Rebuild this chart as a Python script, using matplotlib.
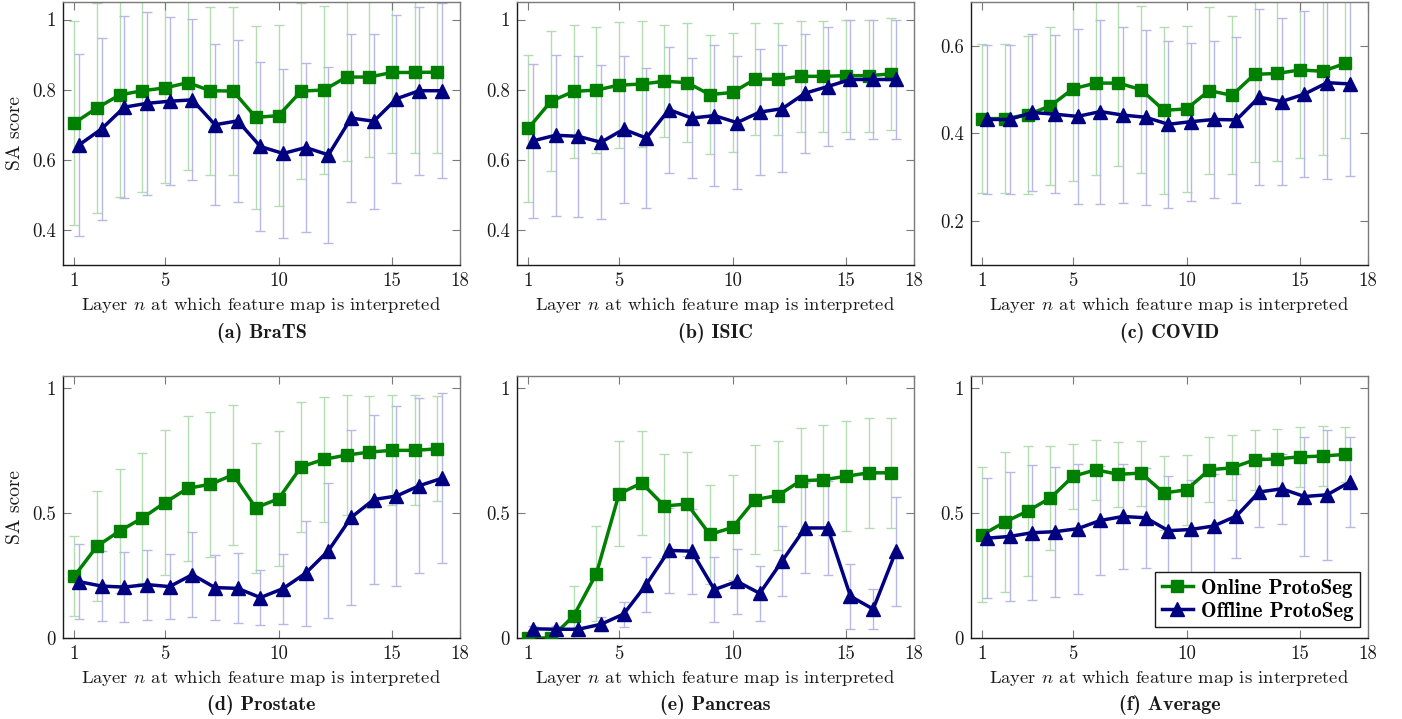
import matplotlib
matplotlib.use("Agg")
import matplotlib.pyplot as plt
import numpy as np

plt.rcParams['font.family'] = ['cmr10', 'DejaVu Serif']
plt.rcParams['mathtext.fontset'] = 'cm'
plt.rcParams['axes.formatter.use_mathtext'] = True

layers = list(range(1, 18))

titles = ["(a) BraTS", "(b) ISIC", "(c) COVID", "(d) Prostate", "(e) Pancreas", "(f) Average"]

brats_on = [0.705, 0.748, 0.785, 0.797, 0.805, 0.820, 0.797, 0.796, 0.721, 0.726, 0.796, 0.799, 0.836, 0.836, 0.849, 0.849, 0.850]
brats_on_sd = [0.29, 0.30, 0.29, 0.29, 0.27, 0.25, 0.24, 0.24, 0.26, 0.258, 0.25, 0.24, 0.24, 0.227, 0.231, 0.231, 0.23]
brats_off = [0.642, 0.688, 0.750, 0.761, 0.767, 0.771, 0.700, 0.711, 0.638, 0.618, 0.635, 0.614, 0.719, 0.710, 0.774, 0.797, 0.797]
brats_off_sd = [0.26, 0.26, 0.26, 0.26, 0.24, 0.23, 0.23, 0.23, 0.24, 0.24, 0.24, 0.25, 0.24, 0.25, 0.24, 0.24, 0.25]

isic_on = [0.690, 0.767, 0.795, 0.799, 0.813, 0.816, 0.824, 0.820, 0.786, 0.792, 0.830, 0.830, 0.838, 0.838, 0.840, 0.840, 0.845]
isic_on_sd = [0.21, 0.20, 0.19, 0.18, 0.18, 0.18, 0.16, 0.17, 0.17, 0.17, 0.16, 0.16, 0.159, 0.159, 0.16, 0.16, 0.16]
isic_off = [0.654, 0.670, 0.667, 0.650, 0.687, 0.662, 0.743, 0.719, 0.726, 0.706, 0.736, 0.746, 0.790, 0.809, 0.829, 0.829, 0.829]
isic_off_sd = [0.22, 0.23, 0.23, 0.22, 0.21, 0.20, 0.18, 0.17, 0.20, 0.19, 0.18, 0.18, 0.17, 0.17, 0.17, 0.17, 0.17]

covid_on = [0.434, 0.434, 0.443, 0.463, 0.502, 0.515, 0.515, 0.500, 0.453, 0.456, 0.498, 0.487, 0.535, 0.537, 0.545, 0.542, 0.560]
covid_on_sd = [0.17, 0.17, 0.18, 0.18, 0.21, 0.21, 0.19, 0.19, 0.19, 0.19, 0.19, 0.18, 0.20, 0.20, 0.20, 0.19, 0.17]
covid_off = [0.432, 0.432, 0.448, 0.444, 0.439, 0.450, 0.442, 0.437, 0.421, 0.427, 0.432, 0.431, 0.483, 0.473, 0.490, 0.516, 0.513]
covid_off_sd = [0.17, 0.17, 0.18, 0.18, 0.20, 0.21, 0.20, 0.20, 0.19, 0.18, 0.18, 0.19, 0.20, 0.19, 0.19, 0.22, 0.21]

prostate_on = [0.248, 0.368, 0.429, 0.481, 0.543, 0.600, 0.616, 0.654, 0.522, 0.558, 0.686, 0.716, 0.733, 0.745, 0.752, 0.752, 0.758]
prostate_on_sd = [0.16, 0.22, 0.25, 0.26, 0.29, 0.29, 0.29, 0.28, 0.26, 0.27, 0.26, 0.25, 0.24, 0.225, 0.22, 0.22, 0.21]
prostate_off = [0.226, 0.208, 0.204, 0.214, 0.206, 0.254, 0.202, 0.199, 0.162, 0.198, 0.260, 0.350, 0.483, 0.555, 0.569, 0.610, 0.640]
prostate_off_sd = [0.15, 0.14, 0.14, 0.14, 0.13, 0.17, 0.13, 0.14, 0.11, 0.14, 0.21, 0.27, 0.35, 0.34, 0.36, 0.35, 0.34]

pancreas_on = [0.0, 0.0, 0.089, 0.258, 0.578, 0.621, 0.529, 0.537, 0.415, 0.443, 0.555, 0.571, 0.630, 0.634, 0.648, 0.662, 0.662]
pancreas_on_sd = [0.0, 0.0, 0.118, 0.19, 0.21, 0.21, 0.21, 0.21, 0.20, 0.21, 0.22, 0.22, 0.21, 0.22, 0.22, 0.22, 0.22]
pancreas_off = [0.037, 0.035, 0.035, 0.055, 0.096, 0.214, 0.351, 0.348, 0.194, 0.227, 0.179, 0.310, 0.441, 0.441, 0.167, 0.116, 0.347]
pancreas_off_sd = [0.01, 0.015, 0.01, 0.028, 0.05, 0.11, 0.17, 0.17, 0.13, 0.13, 0.11, 0.14, 0.18, 0.19, 0.13, 0.08, 0.22]

average_on = [0.414, 0.465, 0.509, 0.561, 0.648, 0.674, 0.656, 0.661, 0.581, 0.594, 0.674, 0.682, 0.714, 0.718, 0.726, 0.729, 0.736]
average_on_sd = [0.27, 0.28, 0.26, 0.21, 0.13, 0.12, 0.13, 0.13, 0.15, 0.14, 0.13, 0.13, 0.12, 0.12, 0.12, 0.12, 0.11]
average_off = [0.400, 0.407, 0.422, 0.426, 0.438, 0.471, 0.487, 0.482, 0.430, 0.435, 0.449, 0.489, 0.585, 0.598, 0.567, 0.574, 0.625]
average_off_sd = [0.24, 0.26, 0.27, 0.26, 0.26, 0.22, 0.21, 0.20, 0.22, 0.20, 0.21, 0.17, 0.14, 0.14, 0.24, 0.26, 0.18]

panels = [
    (brats_on, brats_on_sd, brats_off, brats_off_sd),
    (isic_on, isic_on_sd, isic_off, isic_off_sd),
    (covid_on, covid_on_sd, covid_off, covid_off_sd),
    (prostate_on, prostate_on_sd, prostate_off, prostate_off_sd),
    (pancreas_on, pancreas_on_sd, pancreas_off, pancreas_off_sd),
    (average_on, average_on_sd, average_off, average_off_sd),
]
ylims = [(0.3, 1.05), (0.3, 1.05), (0.1, 0.7), (0, 1.05), (0, 1.05), (0, 1.05)]
yticks = [[0.4, 0.6, 0.8, 1], [0.4, 0.6, 0.8, 1], [0.2, 0.4, 0.6], [0, 0.5, 1], [0, 0.5, 1], [0, 0.5, 1]]
xticks = [1, 5, 10, 15, 18]

GREEN = '#008000'
BLUE = '#000080'
GREEN_ERR = '#b3dcb3'
BLUE_ERR = '#b8b8e6'
GREY = '#7a7a7a'
TXT = '#1a1a1a'

W, H = 1402, 719
fig = plt.figure(figsize=(W / 100, H / 100), dpi=100)

lefts = [63, 517, 971]
rows = [(2, 265), (376, 638)]
aw = 397

def fmt(v):
    if v == int(v):
        return str(int(v))
    return ('%g' % v)

axes = []
for i, (on, on_sd, off, off_sd) in enumerate(panels):
    r, c = divmod(i, 3)
    top, bot = rows[r]
    ax = fig.add_axes([lefts[c] / W, (H - bot) / H, aw / W, (bot - top) / H])
    axes.append(ax)
    x_on = np.array(layers, dtype=float)
    x_off = x_on + 0.2
    ax.errorbar(x_on, on, yerr=on_sd, fmt='none', ecolor=GREEN_ERR, elinewidth=1.0,
                capsize=3.5, capthick=1.0, zorder=1)
    ax.errorbar(x_off, off, yerr=off_sd, fmt='none', ecolor=BLUE_ERR, elinewidth=1.0,
                capsize=3.5, capthick=1.0, zorder=1)
    ax.plot(x_on, on, color=GREEN, lw=2.5, marker='s', ms=8, zorder=3, label='Online ProtoSeg')
    ax.plot(x_off, off, color=BLUE, lw=2.5, marker='^', ms=9.5, zorder=4, label='Offline ProtoSeg')
    ax.set_xlim(0.5, 18)
    ax.set_ylim(*ylims[i])
    ax.set_xticks(xticks)
    ax.set_xticklabels([str(t) for t in xticks])
    ax.set_yticks(yticks[i])
    ax.set_yticklabels([fmt(t) for t in yticks[i]])
    ax.tick_params(direction='in', length=6, width=0.8, color=GREY, labelsize=13.5,
                   top=True, right=True, pad=5, labelcolor=TXT)
    for s in ['left', 'bottom']:
        ax.spines[s].set_color(TXT)
        ax.spines[s].set_linewidth(1.0)
    for s in ['top', 'right']:
        ax.spines[s].set_color(GREY)
        ax.spines[s].set_linewidth(1.0)
    ax.set_xlabel(r'Layer $n$ at which feature map is interpreted', fontsize=13.4, labelpad=4, color=TXT)
    if c == 0:
        ax.set_ylabel('SA score', fontsize=14, labelpad=6, color=TXT)
    cy = 333 if r == 0 else 705
    fig.text((lefts[c] + aw / 2) / W, (H - cy) / H, titles[i], ha='center', va='center',
             fontsize=14.5, family=['cmb10', 'DejaVu Serif'], color=TXT)

leg = axes[5].legend(loc='lower right', bbox_to_anchor=(0.98, 0.042), borderaxespad=0.0,
                     frameon=True, fancybox=False, framealpha=1.0,
                     edgecolor=TXT, borderpad=0.3, handlelength=1.5, handletextpad=0.4,
                     labelspacing=0.2, prop={'family': 'cmb10', 'size': 15})
leg.get_frame().set_linewidth(1.0)

fig.savefig('out.png', dpi=100)
